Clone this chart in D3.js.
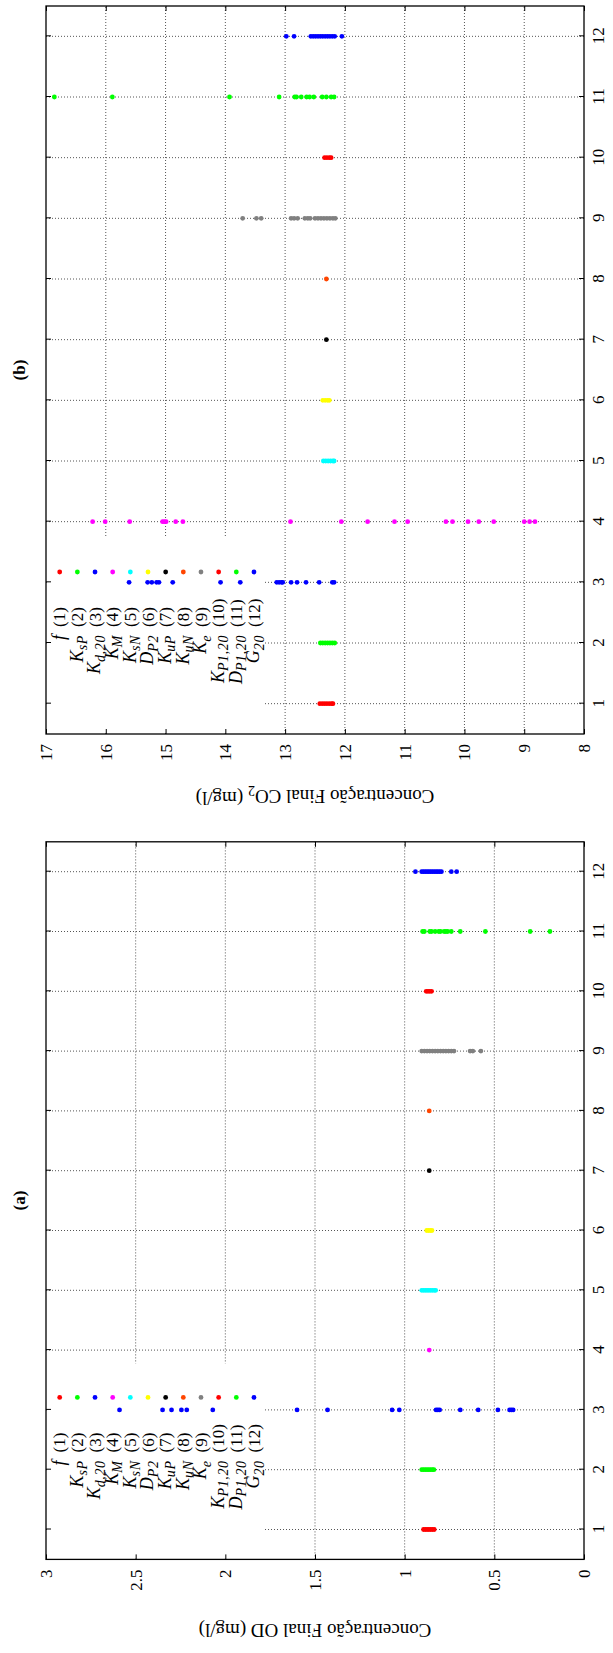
<!DOCTYPE html>
<meta charset="utf-8">
<script src="https://d3js.org/d3.v7.min.js"></script>
<style>
  body { margin: 0; background: #fff; }
  text { font-family: "Liberation Serif", serif; fill: #000; }
</style>
<div id="chart"></div>
<script>
// categories (parameter index) and their colours
var cats = [1, 2, 3, 4, 5, 6, 7, 8, 9, 10, 11, 12];
var colors = ["#ff0000", "#00ff00", "#0000ff", "#ff00ff", "#00ffff", "#ffff00",
              "#000000", "#ff4500", "#808080", "#ff0000", "#00ff00", "#0000ff"];

// legend labels: symbol + subscript
var keyBase = ["f", "K", "K", "K", "K", "D", "K", "K", "K", "K", "D", "G"];
var keySub  = ["", "sP", "d,20", "M", "sN", "P2", "uP", "uN", "e", "P1,20", "P1,20", "20"];

// tick labels
var co2Ticks = [8, 9, 10, 11, 12, 13, 14, 15, 16, 17];
var odTicks = [0, 0.5, 1, 1.5, 2, 2.5, 3];

// (b) final CO2 concentration, one list per parameter
var co2Values = [
  [12.42, 12.38, 12.34, 12.30, 12.26, 12.22, 12.20],
  [12.41, 12.37, 12.33, 12.29, 12.25, 12.21, 12.17],
  [15.61, 15.30, 15.23, 15.15, 15.11, 14.88, 14.08, 13.75, 13.14, 13.10, 13.06, 13.04, 12.90, 12.80, 12.65, 12.43, 12.21, 12.18],
  [16.22, 16.01, 15.60, 15.05, 15.02, 14.99, 14.83, 14.71, 12.91, 12.06, 11.62, 11.17, 10.95, 10.31, 10.20, 9.94, 9.76, 9.51, 9.00, 8.91, 8.82],
  [12.36, 12.32, 12.28, 12.24, 12.20, 12.18],
  [12.37, 12.33, 12.29, 12.26],
  [12.31],
  [12.31],
  [13.71, 13.48, 13.40, 12.90, 12.85, 12.79, 12.67, 12.62, 12.58, 12.50, 12.45, 12.40, 12.35, 12.30, 12.25, 12.20, 12.16],
  [12.34, 12.30, 12.26, 12.23],
  [16.86, 15.89, 13.93, 13.10, 12.84, 12.81, 12.73, 12.64, 12.59, 12.52, 12.38, 12.31, 12.23, 12.18],
  [12.98, 12.85, 12.57, 12.53, 12.49, 12.45, 12.41, 12.37, 12.33, 12.29, 12.25, 12.21, 12.17, 12.05]
];

// (a) final OD concentration, one list per parameter
var odValues = [
  [0.895, 0.885, 0.875, 0.865, 0.855, 0.845, 0.835],
  [0.905, 0.895, 0.885, 0.875, 0.865, 0.855, 0.845, 0.837],
  [2.59, 2.35, 2.30, 2.245, 2.215, 2.07, 1.60, 1.43, 1.07, 1.03, 0.825, 0.815, 0.805, 0.69, 0.59, 0.48, 0.415, 0.405, 0.395],
  [0.863],
  [0.905, 0.895, 0.885, 0.875, 0.865, 0.855, 0.845, 0.835, 0.827],
  [0.877, 0.867, 0.857, 0.848],
  [0.863],
  [0.863],
  [0.905, 0.89, 0.875, 0.86, 0.845, 0.83, 0.815, 0.80, 0.785, 0.77, 0.755, 0.74, 0.725, 0.635, 0.62, 0.575],
  [0.88, 0.87, 0.86, 0.85],
  [0.90, 0.89, 0.86, 0.85, 0.83, 0.81, 0.80, 0.78, 0.77, 0.76, 0.74, 0.69, 0.55, 0.30, 0.19],
  [0.94, 0.905, 0.895, 0.885, 0.875, 0.865, 0.855, 0.845, 0.835, 0.825, 0.815, 0.805, 0.795, 0.74, 0.71]
];

var svg = d3.select("#chart").append("svg")
  .attr("width", 613)
  .attr("height", 1653);

// each panel is drawn as a normal landscape plot, then turned 90 degrees
function drawPanel(p) {
  var top = 46, bottom = 584;
  var g = svg.append("g")
    .attr("transform", "translate(0," + p.base + ") rotate(-90)");

  var x = d3.scaleLinear().domain([0.5, 12.5]).range([0, p.len]);
  var y = d3.scaleLinear().domain(p.domain).range([bottom, top]);

  // grid
  g.selectAll(".hgrid")
    .data(p.ticks.slice(1, -1))
    .enter().append("line")
      .attr("x1", 0).attr("x2", p.len)
      .attr("y1", function(d) { return y(d); })
      .attr("y2", function(d) { return y(d); })
      .attr("stroke", "#555").attr("stroke-dasharray", "1,2");
  g.selectAll(".vgrid")
    .data(cats)
    .enter().append("line")
      .attr("x1", function(d) { return x(d); })
      .attr("x2", function(d) { return x(d); })
      .attr("y1", top).attr("y2", bottom)
      .attr("stroke", "#555").attr("stroke-dasharray", "1,2");

  // opaque key box
  g.append("rect")
    .attr("x", 1).attr("y", top + 1)
    .attr("width", 195).attr("height", 216)
    .attr("fill", "#fff");

  // axes with inward ticks, mirrored
  g.append("g").attr("transform", "translate(0," + bottom + ")")
    .call(d3.axisBottom(x).tickValues(cats).tickSizeInner(-5).tickSizeOuter(0).tickPadding(8));
  g.append("g").attr("transform", "translate(0," + top + ")")
    .call(d3.axisTop(x).tickValues(cats).tickSizeInner(-5).tickSizeOuter(0).tickFormat(""));
  g.append("g")
    .call(d3.axisLeft(y).tickValues(p.ticks).tickSizeInner(-5).tickSizeOuter(0).tickPadding(10)
      .tickFormat(d3.format("~g")));
  g.append("g").attr("transform", "translate(" + p.len + ",0)")
    .call(d3.axisRight(y).tickValues(p.ticks).tickSizeInner(-5).tickSizeOuter(0).tickFormat(""));
  g.selectAll(".domain").remove();
  g.selectAll(".tick line").attr("stroke", "#000");
  g.selectAll(".tick text").style("font-size", "17px").style("font-family", "Liberation Serif");

  // frame
  g.append("rect")
    .attr("x", 0).attr("y", top)
    .attr("width", p.len).attr("height", bottom - top)
    .attr("fill", "none").attr("stroke", "#000").attr("stroke-width", 1.3);

  // points
  var pts = [];
  p.values.forEach(function(list, i) {
    list.forEach(function(v) { pts.push({c: cats[i], v: v, col: colors[i]}); });
  });
  g.selectAll(".pt")
    .data(pts)
    .enter().append("circle")
      .attr("cx", function(d) { return x(d.c); })
      .attr("cy", function(d) { return y(d.v); })
      .attr("r", 2.4)
      .attr("fill", function(d) { return d.col; });

  // key
  var key = g.selectAll(".key")
    .data(cats)
    .enter().append("g")
      .attr("transform", function(d, i) { return "translate(0," + (59.7 + 17.66 * i) + ")"; });
  var name = key.append("text")
    .attr("x", 99).attr("dy", "0.3em")
    .attr("text-anchor", "end")
    .style("font-size", "18px")
    .style("font-style", "italic");
  name.append("tspan").text(function(d, i) { return keyBase[i]; });
  name.append("tspan")
    .attr("dy", "0.3em")
    .style("font-size", "14px")
    .style("letter-spacing", "0.6px")
    .text(function(d, i) { return keySub[i]; });
  key.append("text")
    .attr("x", 107).attr("dy", "0.33em")
    .style("font-size", "17px")
    .text(function(d) { return "(" + d + ")"; });
  key.append("circle")
    .attr("cx", 162).attr("cy", 0).attr("r", 2.4)
    .attr("fill", function(d, i) { return colors[i]; });

  // title
  g.append("text")
    .attr("x", p.len / 2).attr("y", 25)
    .attr("text-anchor", "middle")
    .style("font-size", "17px")
    .style("font-weight", "bold")
    .text(p.title);

  // y label
  var lab = g.append("text")
    .attr("transform", "translate(" + p.labelX + "," + ((top + bottom) / 2) + ") rotate(-90)")
    .attr("text-anchor", "middle")
    .style("font-size", "19px");
  lab.append("tspan").text(p.label[0]);
  if (p.label.length > 1) {
    lab.append("tspan").attr("dy", "0.3em").style("font-size", "14px").text(p.label[1]);
    lab.append("tspan").attr("dy", "-0.3em").text(p.label[2]);
  }
}

drawPanel({
  base: 734, len: 728, domain: [8, 17], ticks: co2Ticks, values: co2Values,
  title: "(b)", labelX: -56, label: ["Concentração Final CO", "2", " (mg/l)"]
});
drawPanel({
  base: 1559.4, len: 717.6, domain: [0, 3], ticks: odTicks, values: odValues,
  title: "(a)", labelX: -65, label: ["Concentração Final OD (mg/l)"]
});
</script>
